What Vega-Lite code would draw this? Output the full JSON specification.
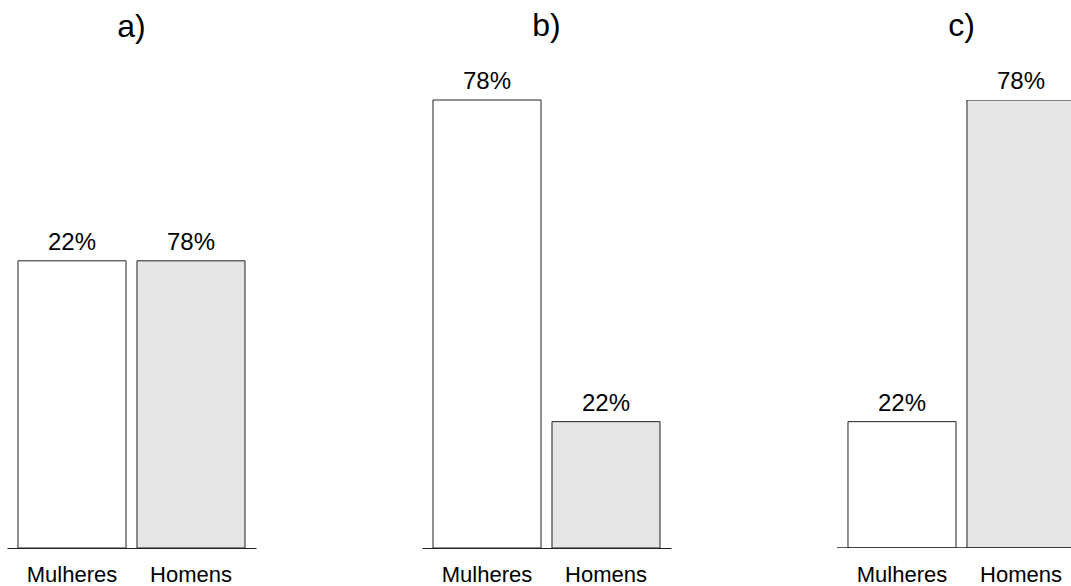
{
  "$schema": "https://vega.github.io/schema/vega-lite/v6.json",
  "background": "white",
  "padding": {"left": 7, "top": 10, "right": 0, "bottom": 0},
  "spacing": 166,
  "config": {
    "view": {"stroke": null},
    "font": "Liberation Sans",
    "title": {"fontSize": 32, "fontWeight": "normal", "color": "black", "anchor": "middle", "baseline": "alphabetic", "font": "Liberation Sans"},
    "axisX": {"title": null, "labelAngle": 0, "ticks": false, "tickSize": 0, "labelFontSize": 22, "labelColor": "black", "labelFont": "Liberation Sans", "domainColor": "#222222", "domainWidth": 1, "labelPadding": 33, "labelBaseline": "alphabetic", "grid": false}
  },
  "data": {"values": [
    {"painel": "a", "sexo": "Mulheres", "altura": 50, "rotulo": "22%"},
    {"painel": "a", "sexo": "Homens", "altura": 50, "rotulo": "78%"},
    {"painel": "b", "sexo": "Mulheres", "altura": 78, "rotulo": "78%"},
    {"painel": "b", "sexo": "Homens", "altura": 22, "rotulo": "22%"},
    {"painel": "c", "sexo": "Mulheres", "altura": 22, "rotulo": "22%"},
    {"painel": "c", "sexo": "Homens", "altura": 78, "rotulo": "78%"}
  ]},
  "hconcat": [
    {
      "title": {"text": "a)", "offset": 56},
      "width": 249, "height": 448,
      "transform": [{"filter": "datum.painel == 'a'"}],
      "encoding": {
        "x": {"field": "sexo", "type": "nominal", "sort": ["Mulheres", "Homens"], "scale": {"paddingInner": 0.0924, "paddingOuter": 0.0924}},
        "y": {"field": "altura", "type": "quantitative", "scale": {"domain": [0, 78], "nice": false}, "axis": null}
      },
      "layer": [
        {"mark": {"type": "bar", "stroke": "#222222", "strokeWidth": 1}, "encoding": {"fill": {"field": "sexo", "type": "nominal", "scale": {"domain": ["Mulheres", "Homens"], "range": ["#ffffff", "#e5e5e5"]}, "legend": null}}},
        {"mark": {"type": "text", "baseline": "alphabetic", "dy": -11, "fontSize": 24, "color": "black"}, "encoding": {"text": {"field": "rotulo"}}}
      ]
    },
    {
      "title": {"text": "b)", "offset": 27},
      "width": 249, "height": 448,
      "transform": [{"filter": "datum.painel == 'b'"}],
      "encoding": {
        "x": {"field": "sexo", "type": "nominal", "sort": ["Mulheres", "Homens"], "scale": {"paddingInner": 0.0924, "paddingOuter": 0.0924}},
        "y": {"field": "altura", "type": "quantitative", "scale": {"domain": [0, 78], "nice": false}, "axis": null}
      },
      "layer": [
        {"mark": {"type": "bar", "stroke": "#222222", "strokeWidth": 1}, "encoding": {"fill": {"field": "sexo", "type": "nominal", "scale": {"domain": ["Mulheres", "Homens"], "range": ["#ffffff", "#e5e5e5"]}, "legend": null}}},
        {"mark": {"type": "text", "baseline": "alphabetic", "dy": -11, "fontSize": 24, "color": "black"}, "encoding": {"text": {"field": "rotulo"}}}
      ]
    },
    {
      "title": {"text": "c)", "dx": 7.5, "offset": 27},
      "width": 234, "height": 448,
      "transform": [{"filter": "datum.painel == 'c'"}],
      "encoding": {
        "x": {"field": "sexo", "type": "nominal", "sort": ["Mulheres", "Homens"], "scale": {"paddingInner": 0.0924, "paddingOuter": 0.0924, "range": [0, 249]}, "axis": {"domain": false}},
        "y": {"field": "altura", "type": "quantitative", "scale": {"domain": [0, 78], "nice": false}, "axis": null}
      },
      "layer": [
        {"mark": {"type": "bar", "stroke": "#222222", "strokeWidth": 1, "clip": true}, "encoding": {"fill": {"field": "sexo", "type": "nominal", "scale": {"domain": ["Mulheres", "Homens"], "range": ["#ffffff", "#e5e5e5"]}, "legend": null}}},
        {"mark": {"type": "text", "baseline": "alphabetic", "dy": -11, "fontSize": 24, "color": "black"}, "encoding": {"text": {"field": "rotulo"}}},
        {"mark": {"type": "rule", "color": "#222222", "strokeWidth": 1, "clip": true}, "encoding": {"y": {"datum": 0}, "x": null}}
      ]
    }
  ]
}
